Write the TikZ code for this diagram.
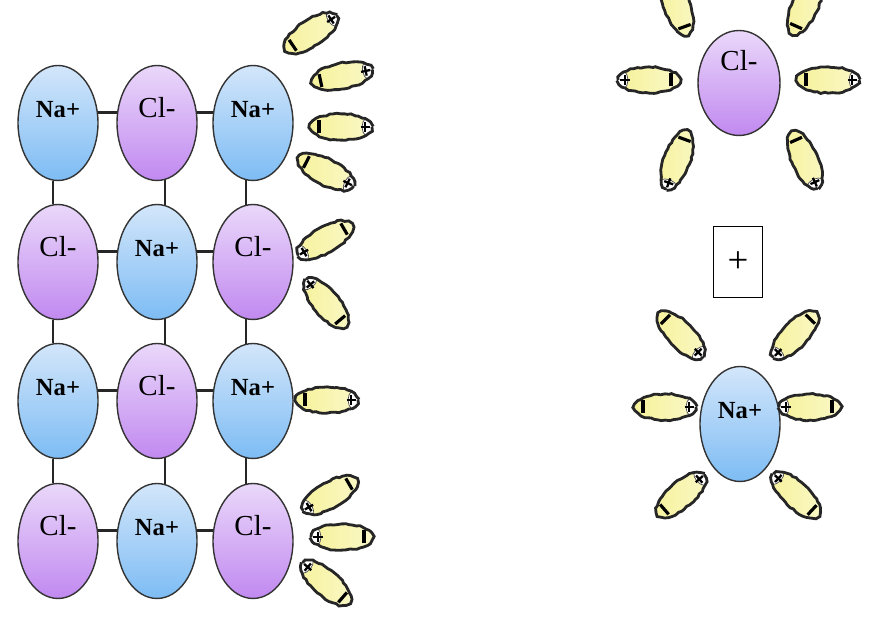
\documentclass[tikz,border=0pt]{standalone}
\usepackage{fontspec}
\setmainfont{Liberation Serif}
\usetikzlibrary{shapes.geometric, decorations.pathmorphing}

\definecolor{naTop}{HTML}{D3E6FA}
\definecolor{naBot}{HTML}{7DBCF4}
\definecolor{clTop}{HTML}{EAD8FA}
\definecolor{clBot}{HTML}{C189F0}
\definecolor{dipYel}{HTML}{F6F29A}

\tikzset{
	ion/.style={ellipse, draw=black!80, line width=0.8pt, inner sep=0pt,
		minimum width=1.6cm, minimum height=2.3cm, text height=0.4cm, text depth=0.6cm},
	na/.style={ion, top color=naTop, middle color=naTop!25!white, bottom color=naBot,
		font=\bfseries\fontsize{14}{16}\selectfont},
	cl/.style={ion, top color=clTop, middle color=clTop!35!white, bottom color=clBot,
		font=\fontsize{16.5}{18}\selectfont},
	bond/.style={line width=1.6pt, black!85},
	dipole/.pic={
		\begin{scope}
			\clip (0,0) ellipse (31 and 13);
			\shade[left color=dipYel, right color=dipYel!55!white] (-31,-13) rectangle (31,13);
			\filldraw[fill=white, draw=black!70, thin] (34,0) circle (13);
		\end{scope}
		% charges
		\draw[line width=1.8pt] (-22,-6.5) -- (-22,6.5);
		\draw[line width=1.3pt] (19.5,0) -- (29,0) (24.2,-4.8) -- (24.2,4.8);
		\draw[line width=1.6pt, black!85, decorate,
			decoration={random steps, segment length=2pt, amplitude=0.45pt}] (0,0) ellipse (31 and 13);
	}
}

\begin{document}
\begin{tikzpicture}[x=0.02cm, y=-0.02cm]
	\pgfmathsetseed{7}
	\clip (0,0) rectangle (869,617);
	
	% Lattice
	\node[na] (g11) at (58,123) {Na+};
	\node[cl] (g12) at (157,123) {Cl-};
	\node[na] (g13) at (253,123) {Na+};
	\node[cl] (g21) at (58,262) {Cl-};
	\node[na] (g22) at (157,262) {Na+};
	\node[cl] (g23) at (253,262) {Cl-};
	\node[na] (g31) at (58,401) {Na+};
	\node[cl] (g32) at (157,401) {Cl-};
	\node[na] (g33) at (253,401) {Na+};
	\node[cl] (g41) at (58,541) {Cl-};
	\node[na] (g42) at (157,541) {Na+};
	\node[cl] (g43) at (253,541) {Cl-};
	
	% Bonds
	\foreach \r in {1,...,4} {
		\draw[bond] (g\r1.15) -- (g\r2.165);
		\draw[bond] (g\r2.15) -- (g\r3.165);
	}
	\foreach \r [evaluate=\r as \n using int(\r+1)] in {1,2,3}
		\foreach \c/\lo/\hi in {1/265/95, 2/278/82, 3/263/97}
			\draw[bond] (g\r\c.\lo) -- (g\n\c.\hi);
	
	% Free ions
	\node[cl, minimum width=1.64cm, minimum height=2.1cm, text depth=0.9cm] (clfree) at (739,83) {Cl-};
	\node[draw, line width=0.6pt, minimum width=0.98cm, minimum height=1.42cm,
		font=\fontsize{21}{24}\selectfont] (sum) at (738,262) {+};
	\node[na] (nafree) at (740,424) {Na+};
	
	% Water molecules
	\foreach \x/\y/\a in {311/33/34, 342/76/12, 341/127/0, 326/172/-27,
		325/240/210, 326/303/130, 327/400/0,
		330/495/210, 342/537/180, 326/583/139}
		\pic[rotate=\a] at (\x,\y) {dipole};
	\foreach \x/\y/\a in {677/6/110, 805/6/66, 649/80/180, 828/80/0, 677/160/250, 805/160/294,
		681/335/315, 795/335/226, 665/407/0, 810/407/180, 681/495/41, 796/495/137}
		\pic[rotate=\a] at (\x,\y) {dipole};
\end{tikzpicture}
\end{document}
